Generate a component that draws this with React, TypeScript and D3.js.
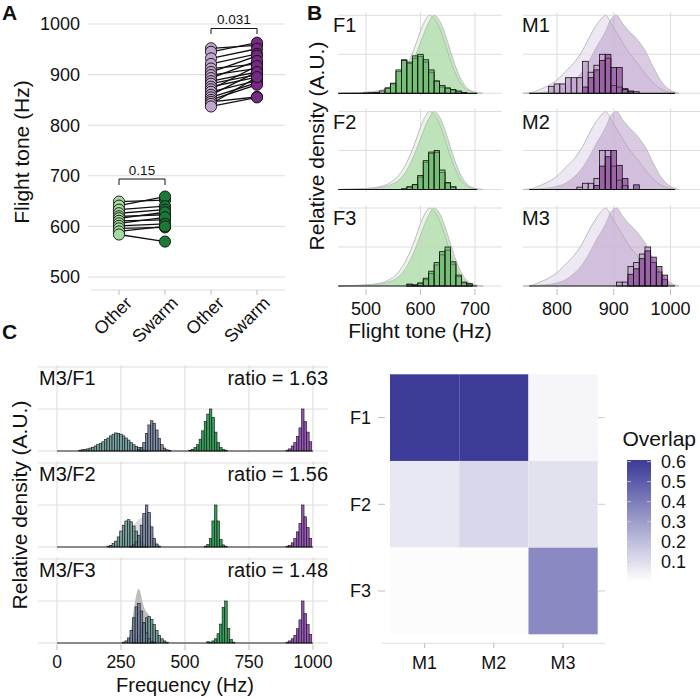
import React from 'react';
import * as d3 from 'd3';

const FONT = "'Liberation Sans', Arial, Helvetica, sans-serif";
const GRID = '#dedede';

// ---------------- Panel A data ----------------
const conditionLabels = ['Other', 'Swarm', 'Other', 'Swarm'];
const femaleOther = [649, 641, 633, 626, 620, 616, 611, 606, 601, 596, 590, 584];
const femaleSwarm = [652, 659, 640, 633, 623, 628, 613, 618, 605, 598, 600, 570];
const maleOther = [952, 945, 932, 921, 912, 905, 899, 893, 887, 882, 876, 871, 866, 860, 855, 850, 846, 842, 837];
const maleSwarm = [958, 963, 951, 941, 921, 937, 912, 927, 905, 900, 895, 917, 888, 905, 884, 880, 856, 895, 855];
const toneTicks = [500, 600, 700, 800, 900, 1000];
const pFemale = '0.15';
const pMale = '0.031';

// ---------------- Panel B data ----------------
const femaleFacets = ['F1', 'F2', 'F3'];
const maleFacets = ['M1', 'M2', 'M3'];
const femaleTicks = [500, 600, 700];
const maleTicks = [800, 900, 1000];
const femaleRange = [449, 704];
const maleRange = [751, 1008];

const greenDensX = [450, 470, 490, 510, 530, 545, 560, 575, 590, 600, 610, 616, 625, 635, 645, 655, 665, 675, 685, 695, 705, 715];
const greenDensOther = [0, 0.005, 0.01, 0.02, 0.045, 0.09, 0.18, 0.35, 0.6, 0.8, 0.95, 1.0, 0.96, 0.84, 0.64, 0.42, 0.24, 0.11, 0.045, 0.015, 0.004, 0];
const greenDensSwarm = [0, 0.003, 0.008, 0.015, 0.03, 0.06, 0.12, 0.25, 0.47, 0.65, 0.83, 0.92, 1.0, 0.93, 0.76, 0.54, 0.33, 0.17, 0.07, 0.025, 0.006, 0];

const purpleDensX = [740, 755, 770, 785, 800, 815, 830, 845, 860, 870, 880, 886, 895, 905, 915, 925, 940, 955, 970, 985, 1000, 1015];
const purpleDensOther = [0, 0.01, 0.05, 0.1, 0.17, 0.28, 0.39, 0.55, 0.76, 0.88, 0.97, 1.0, 0.9, 0.78, 0.66, 0.54, 0.4, 0.26, 0.13, 0.05, 0.01, 0];
const purpleDensSwarm = [0, 0, 0.01, 0.02, 0.04, 0.08, 0.16, 0.28, 0.46, 0.6, 0.72, 0.8, 0.95, 1.0, 0.9, 0.81, 0.7, 0.55, 0.33, 0.14, 0.04, 0];

type Bin = [number, number];
const histF1Other: Bin[] = [[500, .005], [510, .008], [520, .01], [530, .03], [540, .06], [550, .12], [560, .28], [570, .43], [580, .38], [590, .45], [600, .47], [610, .4], [620, .27], [630, .15], [640, .08], [650, .06], [660, .04], [670, .02]];
const histF1Swarm: Bin[] = [[540, .07], [550, .13], [560, .3], [570, .42], [580, .4], [590, .48], [600, .5], [610, .43], [620, .3], [630, .16], [640, .1], [650, .07], [660, .05], [670, .03], [680, .01]];
const histF2Other: Bin[] = [[570, .01], [580, .03], [590, .06], [600, .16], [610, .35], [620, .46], [630, .5], [640, .22], [650, .08], [660, .03]];
const histF2Swarm: Bin[] = [[580, .035], [590, .065], [600, .18], [610, .37], [620, .48], [630, .48], [640, .25], [650, .09], [660, .035]];
const histF3Other: Bin[] = [[580, .02], [590, .01], [600, .03], [610, .08], [620, .16], [630, .27], [640, .4], [650, .46], [660, .28], [670, .12], [680, .04], [690, .02]];
const histF3Swarm: Bin[] = [[580, .025], [590, .015], [600, .04], [610, .1], [620, .19], [630, .3], [640, .44], [650, .5], [660, .31], [670, .14], [680, .05], [690, .03]];

const histM1Other: Bin[] = [[790, .09], [800, .12], [810, .12], [820, .2], [830, .2], [840, .2], [850, .41], [860, .27], [870, .36], [880, .5], [890, .45], [900, .1], [910, .08], [920, .06], [930, .03], [940, .02]];
const histM1Swarm: Bin[] = [[850, .08], [860, .2], [870, .3], [880, .42], [890, .5], [900, .33], [910, .33], [920, .05], [930, .02]];
const histM2Other: Bin[] = [[840, .03], [850, .08], [860, .08], [870, .14], [880, .5], [890, .5], [900, .3], [910, .12], [920, .05]];
const histM2Swarm: Bin[] = [[870, .05], [880, .3], [890, .42], [900, .5], [910, .31], [920, .14], [940, .06]];
const histM3Other: Bin[] = [[910, .05], [920, .05], [930, .25], [940, .3], [950, .41], [960, .5], [970, .3], [980, .18], [990, .08]];
const histM3Swarm: Bin[] = [[930, .15], [940, .22], [950, .35], [960, .45], [970, .37], [980, .25], [990, .14]];

// ---------------- Panel C data ----------------
const pairLabels = ['M3/F1', 'M3/F2', 'M3/F3'];
const ratioLabels = ['ratio = 1.63', 'ratio = 1.56', 'ratio = 1.48'];
const freqTicks = [0, 250, 500, 750, 1000];

const c1Teal: Bin[] = [[90, .02], [100, .03], [110, .04], [120, .05], [130, .07], [140, .09], [150, .12], [160, .15], [170, .18], [180, .22], [190, .27], [200, .31], [210, .36], [220, .4], [230, .43], [240, .42], [250, .4], [260, .36], [270, .31], [280, .26], [290, .2], [300, .15], [310, .11], [320, .08], [330, .05], [340, .03], [350, .02]];
const c1Blue: Bin[] = [[320, .03], [330, .08], [340, .2], [350, .42], [360, .62], [370, .72], [380, .66], [390, .5], [400, .3], [410, .15], [420, .07], [430, .03], [440, .01]];
const c1Green: Bin[] = [[520, .02], [530, .04], [540, .08], [550, .15], [560, .28], [570, .48], [580, .7], [590, .88], [600, 1.0], [610, .8], [620, .45], [630, .2], [640, .08], [650, .04], [660, .02]];
const c1Purple: Bin[] = [[900, .02], [910, .05], [920, .12], [930, .2], [940, .35], [950, .55], [960, 1.0], [970, .7], [980, .45], [990, .22]];

const c2Gray: Bin[] = [[230, 0], [260, .2], [290, .45], [310, .6], [330, .7], [345, .75], [360, .6], [380, .25], [400, .05], [420, 0]];
const c2Teal: Bin[] = [[200, .02], [210, .04], [220, .08], [230, .14], [240, .24], [250, .38], [260, .52], [270, .62], [280, .65], [290, .6], [300, .5], [310, .38], [320, .24], [330, .12], [340, .05], [350, .02]];
const c2Blue: Bin[] = [[290, .02], [300, .05], [310, .12], [320, .28], [330, .52], [340, .8], [350, 1.0], [360, .82], [370, .48], [380, .2], [390, .07], [400, .02]];
const c2Green: Bin[] = [[580, .02], [590, .06], [600, .2], [610, .62], [620, 1.0], [630, .62], [640, .18], [650, .05], [660, .02]];
const c2Purple: Bin[] = [[900, .02], [910, .04], [920, .1], [930, .2], [940, .36], [950, .56], [960, 1.0], [970, .72], [980, .46], [990, .2]];

const c3Gray: Bin[] = [[260, 0], [275, .05], [290, .35], [300, .8], [310, 1.15], [318, 1.29], [326, 1.2], [335, .95], [345, .78], [355, .7], [365, .6], [380, .4], [395, .2], [410, .08], [430, .02], [450, 0]];
const c3Blue: Bin[] = [[260, .02], [270, .05], [280, .12], [290, .3], [300, .6], [310, .86], [320, .94], [330, .76], [340, .48], [350, .24], [360, .1], [370, .04], [380, .02]];
const c3Teal: Bin[] = [[300, .03], [310, .08], [320, .18], [330, .32], [340, .48], [350, .6], [360, .63], [370, .56], [380, .44], [390, .3], [400, .18], [410, .1], [420, .05], [430, .02]];
const c3Green: Bin[] = [[590, .03], [600, .02], [610, .05], [620, .1], [630, .22], [640, .45], [650, .85], [660, 1.0], [670, .35], [680, .08], [690, .02]];
const c3Purple: Bin[] = [[900, .02], [910, .05], [920, .1], [930, .18], [940, .34], [950, .55], [960, 1.0], [970, .7], [980, .44], [990, .2]];

// ---------------- Heatmap data ----------------
const heatCols = ['M1', 'M2', 'M3'];
const heatRows = ['F1', 'F2', 'F3'];
const overlapF1 = [0.6, 0.6, 0.03];
const overlapF2 = [0.07, 0.12, 0.09];
const overlapF3 = [0.01, 0.01, 0.36];
const legendTicks = [0.1, 0.2, 0.3, 0.4, 0.5, 0.6];

// ---------------- helpers ----------------
function Hist({ bins, x, y, fill, opacity = 1, stroke = '#111', sw = 0.8 }: any) {
  const base = y(0);
  return (
    <g>
      {bins.map(([c, h]: Bin, i: number) => (
        <rect key={i} x={x(c - 5)} width={x(c + 5) - x(c - 5)} y={y(h)} height={base - y(h)}
          fill={fill} fillOpacity={opacity} stroke={stroke} strokeWidth={sw} />
      ))}
    </g>
  );
}

function PanelA() {
  const x = d3.scalePoint<number>().domain([0, 1, 2, 3]).range([119, 257]);
  const y = d3.scaleLinear().domain([500, 1000]).range([277, 24]);
  const pts = (vals: number[], i: number) => vals.map(v => [x(i) as number, y(v)]);
  return (
    <g>
      {toneTicks.map(t => (
        <g key={t}>
          <line x1={88} x2={285} y1={y(t)} y2={y(t)} stroke={GRID} strokeWidth={1.1} />
          <text x={80} y={y(t)} dy="0.36em" textAnchor="end" fontSize={18} fill="#111">{t}</text>
        </g>
      ))}
      <line x1={91} x2={285} y1={290} y2={290} stroke={GRID} strokeWidth={1.1} />
      {conditionLabels.map((l, i) => (
        <g key={i}>
          <line x1={x(i)} x2={x(i)} y1={290} y2={295} stroke="#bbb" />
          <text transform={`translate(${(x(i) as number) + 5},${295}) rotate(-45)`} textAnchor="end" dy="0.72em" fontSize={18} fill="#111">{l}</text>
        </g>
      ))}
      <text transform="translate(22,152) rotate(-90)" textAnchor="middle" dy="0.35em" fontSize={21} fill="#111">Flight tone (Hz)</text>
      <path d={`M${x(0)},185 V179 H${x(1)} V185`} fill="none" stroke="#111" strokeWidth={1} />
      <text x={((x(0) as number) + (x(1) as number)) / 2} y={175} textAnchor="middle" fontSize={13.5} fill="#111">{pFemale}</text>
      <path d={`M${x(2)},34 V28.5 H${x(3)} V34`} fill="none" stroke="#111" strokeWidth={1} />
      <text x={((x(2) as number) + (x(3) as number)) / 2} y={23.5} textAnchor="middle" fontSize={13.5} fill="#111">{pMale}</text>
      {femaleOther.map((v, i) => (
        <line key={'fl' + i} x1={x(0)} x2={x(1)} y1={y(v)} y2={y(femaleSwarm[i])} stroke="#111" strokeWidth={1.3} />
      ))}
      {maleOther.map((v, i) => (
        <line key={'ml' + i} x1={x(2)} x2={x(3)} y1={y(v)} y2={y(maleSwarm[i])} stroke="#111" strokeWidth={1.3} />
      ))}
      {pts(femaleOther, 0).map((p, i) => <circle key={'a' + i} cx={p[0]} cy={p[1]} r={5.6} fill="#a6dba0" stroke="#111" strokeWidth={0.9} />)}
      {pts(femaleSwarm, 1).map((p, i) => <circle key={'b' + i} cx={p[0]} cy={p[1]} r={5.6} fill="#1b7837" stroke="#111" strokeWidth={0.9} />)}
      {pts(maleOther, 2).map((p, i) => <circle key={'c' + i} cx={p[0]} cy={p[1]} r={5.6} fill="#c2a5cf" stroke="#111" strokeWidth={0.9} />)}
      {pts(maleSwarm, 3).map((p, i) => <circle key={'d' + i} cx={p[0]} cy={p[1]} r={5.6} fill="#762a83" stroke="#111" strokeWidth={0.9} />)}
    </g>
  );
}

function DensFacet({ x, base, label, labelX, px0, px1, ticks, densX, dOther, dSwarm, hOther, hSwarm, cOtherD, cSwarmD, cOtherH, cSwarmH, range }: any) {
  const y = d3.scaleLinear().domain([0, 1]).range([base, base - 78]);
  const area = d3.area<number>().x((_, i) => x(densX[i])).y0(base).y1(d => y(d)).curve(d3.curveMonotoneX);
  const line = d3.line<number>().x((_, i) => x(densX[i])).y(d => y(d)).curve(d3.curveMonotoneX);
  return (
    <g>
      {[0, 0.5, 1].map(v => <line key={v} x1={px0} x2={px1} y1={y(v)} y2={y(v)} stroke={GRID} strokeWidth={1.1} />)}
      {ticks.map((t: number) => <line key={t} x1={x(t)} x2={x(t)} y1={base - 81} y2={base + 2} stroke={GRID} strokeWidth={1.1} />)}
      <path d={area(dOther) as string} fill={cOtherD} fillOpacity={0.75} />
      <path d={line(dOther) as string} fill="none" stroke="#bdbdbd" strokeWidth={1} />
      <path d={area(dSwarm) as string} fill={cSwarmD} fillOpacity={0.5} />
      <path d={line(dSwarm) as string} fill="none" stroke="#bdbdbd" strokeWidth={1} />
      <Hist bins={hOther} x={x} y={y} fill={cOtherH} opacity={0.85} />
      <Hist bins={hSwarm} x={x} y={y} fill={cSwarmH} opacity={0.55} />
      <line x1={x(range[0])} x2={x(range[1])} y1={base} y2={base} stroke="#111" strokeWidth={1.2} />
      <text x={labelX} y={base - 61} fontSize={20} fill="#111">{label}</text>
    </g>
  );
}

function PanelB() {
  const xL = d3.scaleLinear().domain([500, 700]).range([366, 475]);
  const xR = d3.scaleLinear().domain([800, 1000]).range([557, 670.5]);
  const bases = [93.3, 189.5, 286];
  const fH = [[histF1Other, histF1Swarm], [histF2Other, histF2Swarm], [histF3Other, histF3Swarm]];
  const mH = [[histM1Other, histM1Swarm], [histM2Other, histM2Swarm], [histM3Other, histM3Swarm]];
  return (
    <g>
      {femaleFacets.map((f, i) => (
        <DensFacet key={f} x={xL} base={bases[i]} label={f} labelX={333} px0={338} px1={502} ticks={femaleTicks}
          densX={greenDensX} dOther={greenDensOther} dSwarm={greenDensSwarm} hOther={fH[i][0]} hSwarm={fH[i][1]}
          cOtherD="#e2f2de" cSwarmD="#94d08e" cOtherH="#a6dba0" cSwarmH="#4fa852" range={femaleRange} />
      ))}
      {maleFacets.map((m, i) => (
        <DensFacet key={m} x={xR} base={bases[i]} label={m} labelX={522} px0={523} px1={700} ticks={maleTicks}
          densX={purpleDensX} dOther={purpleDensOther} dSwarm={purpleDensSwarm} hOther={mH[i][0]} hSwarm={mH[i][1]}
          cOtherD="#e8dff0" cSwarmD="#b598c6" cOtherH="#c2a5cf" cSwarmH="#762a83" range={maleRange} />
      ))}
      {femaleTicks.map(t => (
        <g key={t}>
          <line x1={xL(t)} x2={xL(t)} y1={289} y2={295} stroke="#bbb" />
          <text x={xL(t)} y={315} textAnchor="middle" fontSize={18} fill="#111">{t}</text>
        </g>
      ))}
      {maleTicks.map(t => (
        <g key={t}>
          <line x1={xR(t)} x2={xR(t)} y1={289} y2={295} stroke="#bbb" />
          <text x={xR(t)} y={315} textAnchor="middle" fontSize={18} fill="#111">{t}</text>
        </g>
      ))}
      <text x={420} y={338} textAnchor="middle" fontSize={21} fill="#111">Flight tone (Hz)</text>
      <text transform="translate(317,146) rotate(-90)" textAnchor="middle" dy="0.35em" fontSize={21} fill="#111">Relative density (A.U.)</text>
    </g>
  );
}

function PanelC() {
  const x = d3.scaleLinear().domain([0, 1000]).range([57, 313]);
  const bases = [451, 547, 643];
  const sets = [
    { gray: null, teal: c1Teal, blue: c1Blue, green: c1Green, purple: c1Purple },
    { gray: c2Gray, teal: c2Teal, blue: c2Blue, green: c2Green, purple: c2Purple },
    { gray: c3Gray, teal: c3Teal, blue: c3Blue, green: c3Green, purple: c3Purple },
  ];
  return (
    <g>
      {sets.map((s, i) => {
        const base = bases[i];
        const y = d3.scaleLinear().domain([0, 2]).range([base, base - 84]);
        const area = d3.area<Bin>().x(d => x(d[0])).y0(base).y1(d => y(d[1])).curve(d3.curveMonotoneX);
        return (
          <g key={i}>
            {[0, 1, 2].map(v => <line key={v} x1={38} x2={328} y1={y(v)} y2={y(v)} stroke={GRID} strokeWidth={1.1} />)}
            {freqTicks.map(t => <line key={t} x1={x(t)} x2={x(t)} y1={base - 86} y2={base + 2} stroke={GRID} strokeWidth={1.1} />)}
            {s.gray && <path d={area(s.gray) as string} fill={i === 2 ? '#bdbdbd' : '#d6d6d6'} fillOpacity={i === 2 ? 1 : 0.8} />}
            <Hist bins={s.teal} x={x} y={y} fill="#6a9a98" opacity={0.9} sw={0.6} />
            <Hist bins={s.blue} x={x} y={y} fill="#6a7b9a" opacity={0.85} sw={0.6} />
            <Hist bins={s.green} x={x} y={y} fill="#35a05a" sw={0.6} />
            <Hist bins={s.purple} x={x} y={y} fill="#9657b8" sw={0.6} />
            <line x1={x(0)} x2={x(1000)} y1={base} y2={base} stroke="#111" strokeWidth={0.9} />
            <text x={39} y={base - 66} fontSize={20} fill="#111">{pairLabels[i]}</text>
            <text x={328} y={base - 66} textAnchor="end" fontSize={20} fill="#111">{ratioLabels[i]}</text>
          </g>
        );
      })}
      {freqTicks.map(t => (
        <g key={t}>
          <line x1={x(t)} x2={x(t)} y1={645} y2={650} stroke="#bbb" />
          <text x={x(t)} y={668} textAnchor="middle" fontSize={17.5} fill="#111">{t}</text>
        </g>
      ))}
      <text x={185} y={692} textAnchor="middle" fontSize={20} fill="#111">Frequency (Hz)</text>
      <text transform="translate(20,505) rotate(-90)" textAnchor="middle" dy="0.35em" fontSize={21} fill="#111">Relative density (A.U.)</text>
    </g>
  );
}

function Heatmap() {
  const x = d3.scaleBand().domain(heatCols).range([390, 597.7]);
  const y = d3.scaleBand().domain(heatRows).range([374.3, 634.3]);
  const color = d3.scaleLinear<string>().domain([0, 0.6]).range(['#ffffff', '#3c3b97']).clamp(true);
  const rows = [overlapF1, overlapF2, overlapF3];
  const ly = d3.scaleLinear().domain([0, 0.608]).range([581.7, 460]);
  const stops = d3.range(0, 1.0001, 0.1);
  return (
    <g>
      <defs>
        <linearGradient id="ovl" x1="0" y1="1" x2="0" y2="0">
          {stops.map(s => <stop key={s} offset={s} stopColor={color(s * 0.608)} />)}
        </linearGradient>
      </defs>
      {rows.map((r, ri) => r.map((v, ci) => (
        <rect key={ri + '-' + ci} x={x(heatCols[ci])} y={y(heatRows[ri])} width={x.bandwidth()} height={y.bandwidth()} fill={color(v)} />
      )))}
      <line x1={382} x2={605} y1={643.3} y2={643.3} stroke={GRID} strokeWidth={1.1} />
      {heatCols.map(c => (
        <g key={c}>
          <line x1={(x(c) as number) + x.bandwidth() / 2} x2={(x(c) as number) + x.bandwidth() / 2} y1={643.3} y2={648} stroke="#bbb" />
          <text x={(x(c) as number) + x.bandwidth() / 2} y={669} textAnchor="middle" fontSize={18} fill="#111">{c}</text>
        </g>
      ))}
      {heatRows.map(r => {
        const cy = (y(r) as number) + y.bandwidth() / 2;
        return (
          <g key={r}>
            <line x1={378} x2={385} y1={cy} y2={cy} stroke="#bbb" />
            <line x1={598} x2={605} y1={cy} y2={cy} stroke="#ccc" />
            <text x={371} y={cy} dy="0.36em" textAnchor="end" fontSize={18} fill="#111">{r}</text>
          </g>
        );
      })}
      <text x={622.5} y={446} fontSize={21} fill="#111">Overlap</text>
      <rect x={627} y={460} width={24} height={121.7} fill="url(#ovl)" />
      {legendTicks.map(t => (
        <g key={t}>
          <line x1={627} x2={631} y1={ly(t)} y2={ly(t)} stroke="#cfcfcf" strokeOpacity={0.8} />
          <line x1={647} x2={651} y1={ly(t)} y2={ly(t)} stroke="#cfcfcf" strokeOpacity={0.8} />
          <text x={661} y={ly(t)} dy="0.36em" fontSize={18} fill="#111">{t.toFixed(1)}</text>
        </g>
      ))}
    </g>
  );
}

export default function App() {
  return (
    <svg width={700} height={698} viewBox="0 0 700 698" fontFamily={FONT}
      style={{ position: 'absolute', left: 0, top: 0, background: '#fff' }}>
      <rect width={700} height={698} fill="#fff" />
      <PanelA />
      <PanelB />
      <PanelC />
      <Heatmap />
      <text x={2} y={20} fontSize={21} fontWeight="bold" fill="#111">A</text>
      <text x={307} y={20} fontSize={21} fontWeight="bold" fill="#111">B</text>
      <text x={2} y={339} fontSize={21} fontWeight="bold" fill="#111">C</text>
    </svg>
  );
}
